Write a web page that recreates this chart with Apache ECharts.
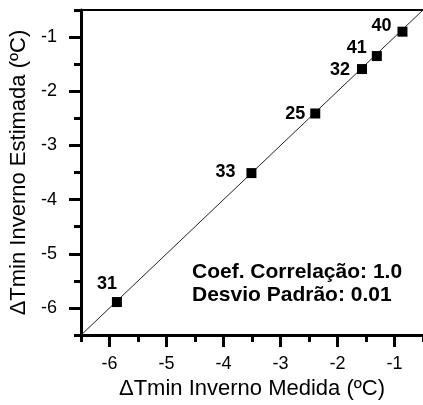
<!DOCTYPE html>
<html>
<head>
<meta charset="utf-8">
<script src="https://cdn.jsdelivr.net/npm/echarts@6/dist/echarts.min.js"></script>
<style>html,body{margin:0;padding:0;background:#fff;}#c{width:423px;height:405px;}</style>
</head>
<body>
<div id="c"></div>
<script>
// ---- data ----
var pointIds   = ['31', '33', '25', '32', '41', '40'];
var measured   = [-5.87, -3.51, -2.39, -1.57, -1.31, -0.86];
var estimated  = [-5.89, -3.51, -2.41, -1.59, -1.35, -0.90];
var fitX       = [-6.5, -0.5];
var fitY       = [-6.5, -0.5];
var xTicks     = [-6, -5, -4, -3, -2, -1];
var yTicks     = [-6, -5, -4, -3, -2, -1];
var xMinor     = [-6.5, -5.5, -4.5, -3.5, -2.5, -1.5, -0.5];
var yMinor     = [-6.5, -5.5, -4.5, -3.5, -2.5, -1.5, -0.5];
var axisMin = -6.5, axisMax = -0.5;
var xTitle = 'ΔTmin Inverno Medida (ºC)';
var yTitle = 'ΔTmin Inverno Estimada (ºC)';
var statLines = ['Coef. Correlação: 1.0', 'Desvio Padrão: 0.01'];

// ---- label placement (style only) ----
var labelPlace = {
  '31': {position: 'top', distance: 4, offset: [-10, 0]},
  '33': {position: 'left', distance: 11, offset: [0, -1]},
  '25': {position: 'left', distance: 5, offset: [0, 1]},
  '32': {position: 'left', distance: 7, offset: [0, 1]},
  '41': {position: 'left', distance: 5, offset: [0, -8]},
  '40': {position: 'left', distance: 6, offset: [0, -6]}
};

var FONT = '"Liberation Sans", Arial, sans-serif';

var scatterData = measured.map(function (x, i) {
  var p = labelPlace[pointIds[i]];
  return {
    value: [x, estimated[i]],
    name: pointIds[i],
    label: {position: p.position, distance: p.distance, offset: p.offset}
  };
});
var lineData = fitX.map(function (x, i) { return [x, fitY[i]]; });

function mainAxis(ticks, name, isX) {
  return {
    type: 'value', min: axisMin, max: axisMax,
    position: isX ? 'bottom' : 'left',
    name: name, nameLocation: 'middle', nameGap: isX ? 38 : 51,
    nameTextStyle: {fontFamily: FONT, fontSize: 22, color: '#000'},
    axisLine: {show: true, onZero: false, lineStyle: {color: '#000', width: 3}},
    axisTick: {show: true, inside: false, length: 12, customValues: ticks, lineStyle: {color: '#000', width: 3}},
    axisLabel: {show: true, customValues: ticks, margin: isX ? 20 : 24, fontFamily: FONT, fontSize: 18, color: '#000'},
    splitLine: {show: false}
  };
}
function minorAxis(ticks, isX) {
  return {
    type: 'value', min: axisMin, max: axisMax,
    position: isX ? 'bottom' : 'left',
    axisLine: {show: false, onZero: false},
    axisTick: {show: true, inside: false, length: 7, customValues: ticks, lineStyle: {color: '#000', width: 3}},
    axisLabel: {show: false},
    splitLine: {show: false}
  };
}
function borderAxis(isX) {
  return {
    type: 'value', min: axisMin, max: axisMax,
    position: isX ? 'top' : 'right',
    axisLine: {show: true, onZero: false, lineStyle: {color: '#000', width: 2}},
    axisTick: {show: false},
    axisLabel: {show: false},
    splitLine: {show: false}
  };
}

var chart = echarts.init(document.getElementById('c'), null, {renderer: 'canvas'});
chart.setOption({
  animation: false,
  backgroundColor: '#fff',
  grid: {left: 79, right: 0, top: 10, bottom: 65, containLabel: false},
  xAxis: [mainAxis(xTicks, xTitle, true), minorAxis(xMinor, true), borderAxis(true)],
  yAxis: [mainAxis(yTicks, yTitle, false), minorAxis(yMinor, false)],
  series: [
    {
      type: 'line', xAxisIndex: 0, yAxisIndex: 0, data: lineData,
      symbol: 'none', silent: true, z: 1,
      lineStyle: {color: '#222', width: 1}
    },
    {
      type: 'scatter', xAxisIndex: 0, yAxisIndex: 0, data: scatterData,
      symbol: 'rect', symbolSize: 10, z: 3,
      itemStyle: {color: '#000', opacity: 1},
      label: {show: true, formatter: '{b}', fontFamily: FONT, fontSize: 18, fontWeight: 'bold', color: '#000', opacity: 1}
    }
  ],
  graphic: statLines.map(function (t, i) {
    return {
      type: 'text', left: 192, top: 262 + i * 23,
      style: {text: t, font: 'bold 21px ' + FONT, fill: '#000'}
    };
  })
});
</script>
</body>
</html>
